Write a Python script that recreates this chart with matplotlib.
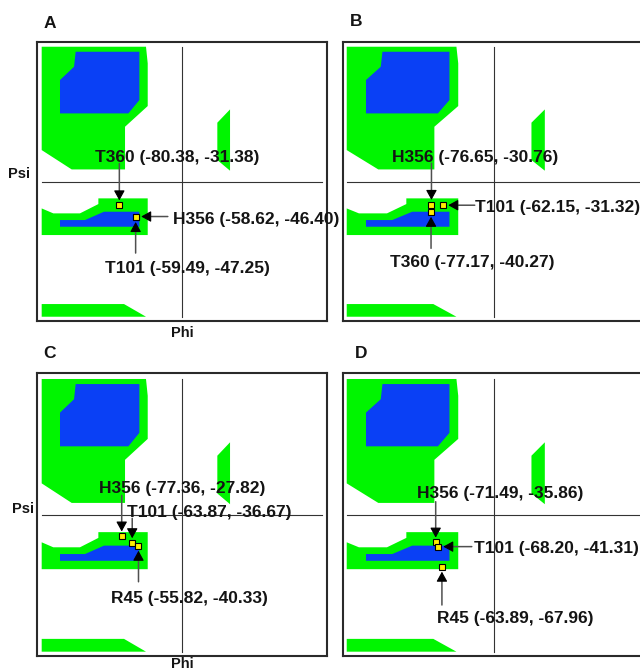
import matplotlib
matplotlib.use("Agg")
import matplotlib.pyplot as plt
from matplotlib.patches import Polygon

plt.rcParams['font.family'] = ['Liberation Sans', 'DejaVu Sans']

# ---------------- data ----------------
panels = ["A", "B", "C", "D"]

# residues and (phi, psi) per panel
res_A = ["T360", "H356", "T101"]
phi_A = [-80.38, -58.62, -59.49]
psi_A = [-31.38, -46.40, -47.25]

res_B = ["H356", "T101", "T360"]
phi_B = [-76.65, -62.15, -77.17]
psi_B = [-30.76, -31.32, -40.27]

res_C = ["H356", "T101", "R45"]
phi_C = [-77.36, -63.87, -55.82]
psi_C = [-27.82, -36.67, -40.33]

res_D = ["H356", "T101", "R45"]
phi_D = [-71.49, -68.20, -63.89]
psi_D = [-35.86, -41.31, -67.96]

# Ramachandran region outlines (phi, psi)
allowed_beta = [(-180, 180), (-46.2, 180), (-44.0, 157.8), (-44.0, 100.9),
                (-73.1, 73.3), (-73.1, 16.4), (-141.5, 16.4), (-180, 42.2)]
core_beta = [(-136.4, 173.3), (-54.7, 173.3), (-54.7, 108.9), (-68.8, 91.1),
             (-156.5, 91.1), (-156.5, 135.6), (-138.5, 153.3)]
allowed_left = [(45.3, 78.7), (61.6, 96.4), (61.6, 14.7), (45.3, 28.9)]
allowed_alpha = [(-180, -35.6), (-165.1, -42.2), (-130.9, -42.2), (-107.3, -29.8),
                 (-107.3, -22.2), (-44.0, -22.2), (-44.0, -71.1), (-180, -71.1)]
core_alpha = [(-156.5, -51.1), (-124.4, -51.1), (-100.1, -40.0), (-54.7, -40.0),
              (-54.7, -60.0), (-156.5, -60.0)]
allowed_bottom = [(-180, -163.1), (-74.4, -163.1), (-46.2, -180), (-180, -180)]

# ---------------- layout ----------------
W, H = 640, 669
GREEN = '#00F500'
BLUE = '#0A40F5'
TXT = '#141414'

# axes boxes in pixels: left, top, right, bottom ; limits
axes_px = {
    "A": ((36.7, 41.7, 326.7, 320.7), (-186.4, 185.6), (-185.3, 186.7)),
    "B": ((342.7, 41.7, 646.5, 320.7), (-184.9, 185.6), (-185.3, 186.7)),
    "C": ((36.7, 373.3, 326.7, 656.0), (-186.4, 185.6), (-185.7, 187.5)),
    "D": ((342.7, 373.3, 646.5, 656.0), (-184.9, 185.6), (-185.7, 187.5)),
}

# annotation layout per panel: (arrow tail offset px, text offset px, ha)
layout = {
    "A": [((0, 41.7), (57.4, 43.5), 'center'),
          ((31.5, 0), (36.5, -7.5), 'left'),
          ((0, -35.9), (52.1, -56.2), 'center')],
    "B": [((0, 41.5), (44.1, 43.1), 'center'),
          ((31.4, 0), (31.8, -7.1), 'left'),
          ((0, -36.4), (41.0, -54.8), 'center')],
    "C": [((0, 41.0), (60.2, 43.1), 'center'),
          ((0, 24.8), (77.5, 26.4), 'center'),
          ((0, -35.9), (51.0, -57.5), 'center')],
    "D": [((0, 40.8), (64.6, 44.2), 'center'),
          ((33.4, 0), (35.8, -6.7), 'left'),
          ((0, -38.2), (73.4, -56.5), 'center')],
}

data = {"A": (res_A, phi_A, psi_A), "B": (res_B, phi_B, psi_B),
        "C": (res_C, phi_C, psi_C), "D": (res_D, phi_D, psi_D)}

fig = plt.figure(figsize=(W / 100, H / 100), dpi=100)

PT = 72 / 100.0
SHRINK = 3.5
HEADLEN = 8.0  # px

for p in panels:
    (l, t, r, b), xl, yl = axes_px[p]
    ax = fig.add_axes([l / W, 1 - b / H, (r - l) / W, (b - t) / H])
    ax.set_xlim(*xl)
    ax.set_ylim(*yl)
    ax.set_xticks([])
    ax.set_yticks([])
    for s in ax.spines.values():
        s.set_color('#2a2a2a')
        s.set_linewidth(1.5)

    for poly, col in [(allowed_beta, GREEN), (core_beta, BLUE),
                      (allowed_left, GREEN), (allowed_alpha, GREEN),
                      (core_alpha, BLUE), (allowed_bottom, GREEN)]:
        ax.add_patch(Polygon(poly, closed=True, facecolor=col,
                             edgecolor='none', zorder=1))

    ax.plot([0, 0], [-180, 180], color='#333333', lw=0.8, zorder=2)
    ax.plot([-180, 180], [0, 0], color='#333333', lw=0.8, zorder=2)

    names, phis, psis = data[p]
    for (name, ph, ps), (tail, toff, ha) in zip(zip(names, phis, psis), layout[p]):
        # arrow shaft
        ax.annotate("", xy=(ph, ps), xytext=tail, textcoords='offset pixels',
                    arrowprops=dict(arrowstyle='-', color='#505050', lw=1.1,
                                    shrinkA=0, shrinkB=SHRINK + 2),
                    zorder=3)
        # arrow head
        dx, dy = tail
        if abs(dx) > abs(dy):
            hoff = ((1 if dx > 0 else -1) * (SHRINK / PT + HEADLEN), 0)
        else:
            hoff = (0, (1 if dy > 0 else -1) * (SHRINK / PT + HEADLEN))
        ax.annotate("", xy=(ph, ps), xytext=hoff, textcoords='offset pixels',
                    arrowprops=dict(arrowstyle='-|>,head_length=0.6,head_width=0.33',
                                    color='black', lw=0.8, shrinkA=0,
                                    shrinkB=SHRINK, mutation_scale=10),
                    zorder=4)
        label = f"{name} ({ph:.2f}, {ps:.2f})"
        ax.annotate(label, xy=(ph, ps), xytext=toff, textcoords='offset pixels',
                    ha=ha, va='baseline', fontsize=12.5, fontweight='bold',
                    color=TXT, zorder=6)
    ax.plot(phis, psis, 's', markersize=4.4, markerfacecolor='#FFEE00',
            markeredgecolor='black', markeredgewidth=0.8, zorder=5)

# panel letters
for letter, x, y in [("A", 50, 28.3), ("B", 356.5, 26.0),
                     ("C", 49.7, 358.3), ("D", 361, 358.3)]:
    fig.text(x / W, 1 - y / H, letter, ha='center', va='baseline',
             fontsize=12.5, fontweight='bold', color=TXT)

# axis labels
for txt, x, y in [("Psi", 19.2, 178.3), ("Phi", 182.5, 336.7),
                  ("Psi", 23.3, 513.3), ("Phi", 182.5, 667.5)]:
    fig.text(x / W, 1 - y / H, txt, ha='center', va='baseline',
             fontsize=10.5, fontweight='bold', color=TXT)

fig.savefig("out.png", dpi=100)
